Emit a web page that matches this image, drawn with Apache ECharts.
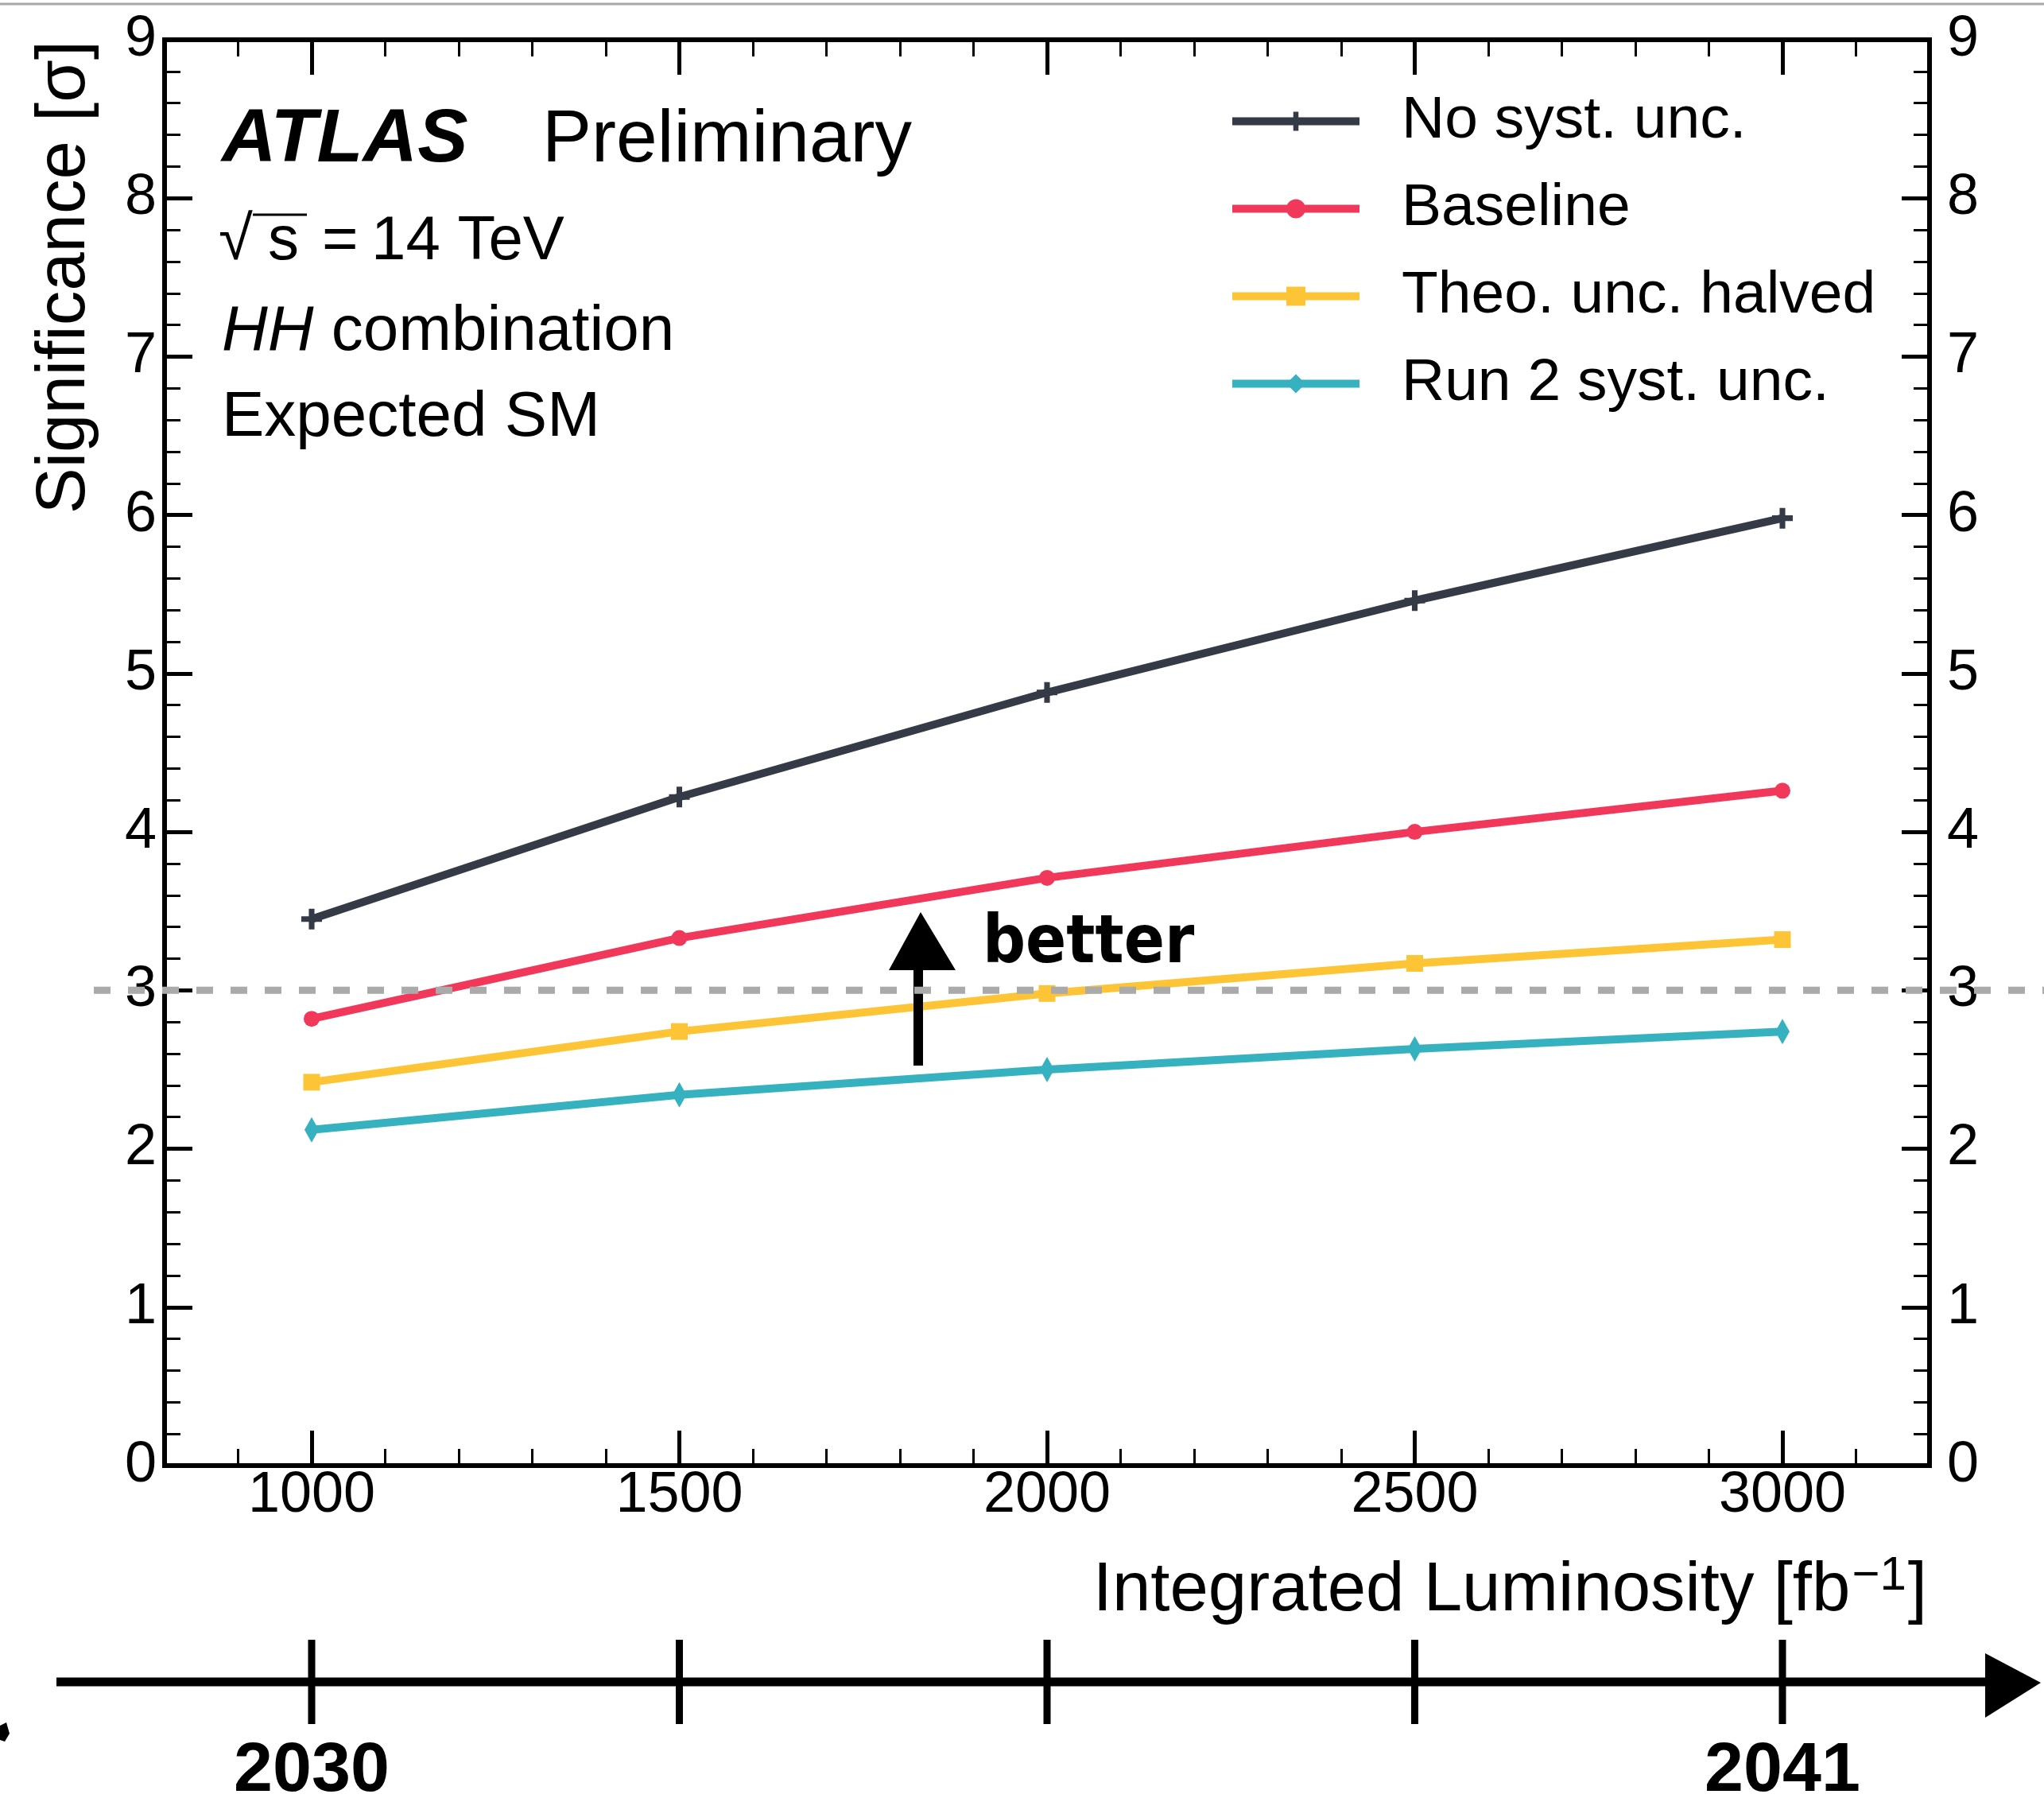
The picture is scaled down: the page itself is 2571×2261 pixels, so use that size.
<!DOCTYPE html>
<html><head><meta charset="utf-8">
<script src="https://cdn.jsdelivr.net/npm/echarts@6/dist/echarts.min.js"></script>
<style>html,body{margin:0;padding:0;background:#fff}#c{width:2571px;height:2261px}</style>
</head><body><div id="c"></div>
<script>
// ---- data ----
const lumi = [1000, 1500, 2000, 2500, 3000];
const noSyst = [3.45, 4.22, 4.88, 5.46, 5.98];
const baselineVals = [2.82, 3.33, 3.71, 4.00, 4.26];
const theoHalved = [2.42, 2.74, 2.98, 3.17, 3.32];
const run2Syst = [2.12, 2.34, 2.50, 2.63, 2.74];
const seriesNames = ['No syst. unc.', 'Baseline', 'Theo. unc. halved', 'Run 2 syst. unc.'];
const xMajorTicks = [1000, 1500, 2000, 2500, 3000];
const xMinorTicks = [900, 1100, 1200, 1300, 1400, 1600, 1700, 1800, 1900, 2100, 2200, 2300, 2400, 2600, 2700, 2800, 2900, 3100];
const threshold = 3;
const timelineLumi = [1000, 1500, 2000, 2500, 3000];
const timelineYears = ['2030', '', '', '', '2041'];

const FONT = '"Liberation Sans", Arial, Helvetica, sans-serif';
const colors = ['#353a47', '#f2385a', '#fdc536', '#36b1bf'];
const plusPath = 'path://M-11,-3 L11,-3 L11,3 L-11,3 Z M-3,-11 L3,-11 L3,11 L-3,11 Z';
const thinDiamond = 'path://M0,-16 L9,0 L0,16 L-9,0 Z';

const chart = echarts.init(document.getElementById('c'), null, {renderer: 'canvas'});

const GL = 207, GW = 2220, GT = 50, GH = 1793;

function mkSeries(name, vals, color, symbol, size) {
  return {
    name: name, type: 'line', xAxisIndex: 0, yAxisIndex: 0,
    data: lumi.map((x, i) => [x, vals[i]]),
    symbol: symbol, symbolSize: size, showSymbol: true,
    lineStyle: {color: color, width: 10},
    itemStyle: {color: color, opacity: 1},
    emphasis: {disabled: true},
    z: 3
  };
}

const labelFmt = v => String(v);
const option = {
  animation: false,
  backgroundColor: '#fff',
  textStyle: {fontFamily: FONT},
  grid: [
    {left: GL, top: GT, width: GW, height: GH, containLabel: false},
    {left: GL, top: 2062, width: GW, height: 106, containLabel: false}
  ],
  xAxis: [
    {type: 'value', gridIndex: 0, position: 'bottom', min: 800, max: 3200,
     axisLine: {show: true, onZero: false, lineStyle: {color: '#000', width: 6, cap: 'square'}},
     axisTick: {show: true, inside: true, length: 44, customValues: xMajorTicks, lineStyle: {color: '#000', width: 5}},
     axisLabel: {show: true, customValues: xMajorTicks, fontSize: 72, color: '#000', fontFamily: FONT, margin: 2, formatter: labelFmt},
     splitLine: {show: false}},
    {type: 'value', gridIndex: 0, position: 'bottom', min: 800, max: 3200,
     axisLine: {show: false, onZero: false},
     axisTick: {show: true, inside: true, length: 21, customValues: xMinorTicks, lineStyle: {color: '#000', width: 3}},
     axisLabel: {show: false}, splitLine: {show: false}},
    {type: 'value', gridIndex: 0, position: 'top', min: 800, max: 3200,
     axisLine: {show: true, onZero: false, lineStyle: {color: '#000', width: 6, cap: 'square'}},
     axisTick: {show: true, inside: true, length: 44, customValues: xMajorTicks, lineStyle: {color: '#000', width: 5}},
     axisLabel: {show: false}, splitLine: {show: false}},
    {type: 'value', gridIndex: 0, position: 'top', min: 800, max: 3200,
     axisLine: {show: false, onZero: false},
     axisTick: {show: true, inside: true, length: 21, customValues: xMinorTicks, lineStyle: {color: '#000', width: 3}},
     axisLabel: {show: false}, splitLine: {show: false}},
    {type: 'value', gridIndex: 1, min: 800, max: 3200, show: false}
  ],
  yAxis: [
    {type: 'value', gridIndex: 0, position: 'left', min: 0, max: 9, interval: 1,
     axisLine: {show: true, onZero: false, lineStyle: {color: '#000', width: 6, cap: 'square'}},
     axisTick: {show: true, inside: true, length: 35, lineStyle: {color: '#000', width: 5}},
     minorTick: {show: true, splitNumber: 5, length: 20, lineStyle: {color: '#000', width: 3}},
     axisLabel: {fontSize: 72, color: '#000', fontFamily: FONT, margin: 10, formatter: labelFmt},
     splitLine: {show: false}},
    {type: 'value', gridIndex: 0, position: 'right', min: 0, max: 9, interval: 1,
     axisLine: {show: true, onZero: false, lineStyle: {color: '#000', width: 6, cap: 'square'}},
     axisTick: {show: true, inside: true, length: 35, lineStyle: {color: '#000', width: 5}},
     minorTick: {show: true, splitNumber: 5, length: 20, lineStyle: {color: '#000', width: 3}},
     axisLabel: {fontSize: 72, color: '#000', fontFamily: FONT, margin: 22, formatter: labelFmt},
     splitLine: {show: false}},
    {type: 'value', gridIndex: 1, min: -1, max: 1, show: false}
  ],
  legend: {
    orient: 'vertical', left: 1540, top: 110, itemWidth: 160, itemHeight: 30, itemGap: 35,
    selectedMode: false,
    data: seriesNames,
    lineStyle: {width: 10},
    textStyle: {fontSize: 75, color: '#000', fontFamily: FONT, padding: [0, 0, 0, 48]}
  },
  series: [
    mkSeries(seriesNames[0], noSyst, colors[0], plusPath, 26),
    mkSeries(seriesNames[1], baselineVals, colors[1], 'circle', 20),
    mkSeries(seriesNames[2], theoHalved, colors[2], 'rect', 21),
    mkSeries(seriesNames[3], run2Syst, colors[3], thinDiamond, [18, 32]),
    {
      name: 'timeline', type: 'scatter', xAxisIndex: 4, yAxisIndex: 2, clip: false,
      data: timelineLumi.map(x => [x, 0]),
      symbol: 'rect', symbolSize: [9, 106],
      itemStyle: {color: '#000', opacity: 1},
      emphasis: {disabled: true},
      label: {show: true, position: 'bottom', distance: 16, fontSize: 88, fontWeight: 'bold', color: '#000', fontFamily: FONT,
              formatter: p => timelineYears[p.dataIndex]}
    }
  ]
};
chart.setOption(option);

function txt(text, x, baseY, fs, extra) {
  const st = Object.assign({text: text, fontSize: fs, fontFamily: FONT, fill: '#000', align: 'left', verticalAlign: 'middle'}, extra || {});
  return {type: 'text', x: x, y: baseY - 0.35 * fs, style: st, z: 50};
}

const yThr = chart.convertToPixel({yAxisIndex: 0}, threshold);

const graphics = [
  // top border line
  {type: 'line', shape: {x1: 0, y1: 5, x2: 2571, y2: 5}, style: {stroke: '#a8a8a8', lineWidth: 3}, z: 50},
  // labels
  txt('ATLAS', 279, 210, 95, {fontStyle: 'italic', fontWeight: 'bold'}),
  txt('Preliminary', 682, 210, 93),
  txt('\u221A', 275, 332, 78),
  {type: 'line', shape: {x1: 318, y1: 270, x2: 386, y2: 270}, style: {stroke: '#000', lineWidth: 3}, z: 50},
  txt('s', 337, 332, 78),
  txt('=', 405, 332, 78),
  txt('14 TeV', 467, 332, 78),
  {type: 'text', x: 279, y: 446 - 0.35 * 80, z: 50,
   style: {text: '{i|HH} combination', fontSize: 80, fontFamily: FONT, fill: '#000', verticalAlign: 'middle',
           rich: {i: {fontStyle: 'italic', fontSize: 80, fontFamily: FONT, fill: '#000'}}}},
  txt('Expected SM', 279, 554, 80),
  // axis titles
  {type: 'text', x: 2424, y: 2031 - 0.35 * 87, z: 50,
   style: {text: 'Integrated Luminosity [fb{sup|\u22121}]', fontSize: 87, fontFamily: FONT, fill: '#000', align: 'right', verticalAlign: 'middle',
           rich: {sup: {fontSize: 60, fontFamily: FONT, fill: '#000', verticalAlign: 'top', padding: [0, 2, 36, 2]}}}},
  {type: 'text', x: 112 - 0.35 * 87, y: 51, rotation: Math.PI / 2, z: 50,
   style: {text: 'Significance [\u03C3]', fontSize: 87, fontFamily: FONT, fill: '#000', align: 'right', verticalAlign: 'middle'}},
  // better arrow
  {type: 'polygon', shape: {points: [[1118, 1220], [1158, 1147], [1202, 1220]]}, style: {fill: '#000'}, z: 40},
  {type: 'rect', shape: {x: 1149, y: 1212, width: 12, height: 128}, style: {fill: '#000'}, z: 40},
  txt('better', 1236, 1218, 84, {fontWeight: 'bold', fontFamily: '"DejaVu Sans Condensed", "DejaVu Sans", sans-serif'}),
  // timeline
  {type: 'line', shape: {x1: 71, y1: 2115, x2: 2500, y2: 2115}, style: {stroke: '#000', lineWidth: 11}, z: 40},
  {type: 'polygon', shape: {points: [[2497, 2079], [2567, 2116], [2497, 2160]]}, style: {fill: '#000'}, z: 40},
  {type: 'polygon', shape: {points: [[0, 2170], [8, 2166], [12, 2180], [6, 2190], [0, 2188]]}, style: {fill: '#000'}, z: 40},
  // threshold dashed line
  {type: 'line', shape: {x1: 118, y1: yThr, x2: 2571, y2: yThr}, style: {stroke: '#aaaaaa', lineWidth: 9, lineDash: [21, 22]}, z: 100}
];
chart.setOption({graphic: graphics});
</script>
</body></html>
